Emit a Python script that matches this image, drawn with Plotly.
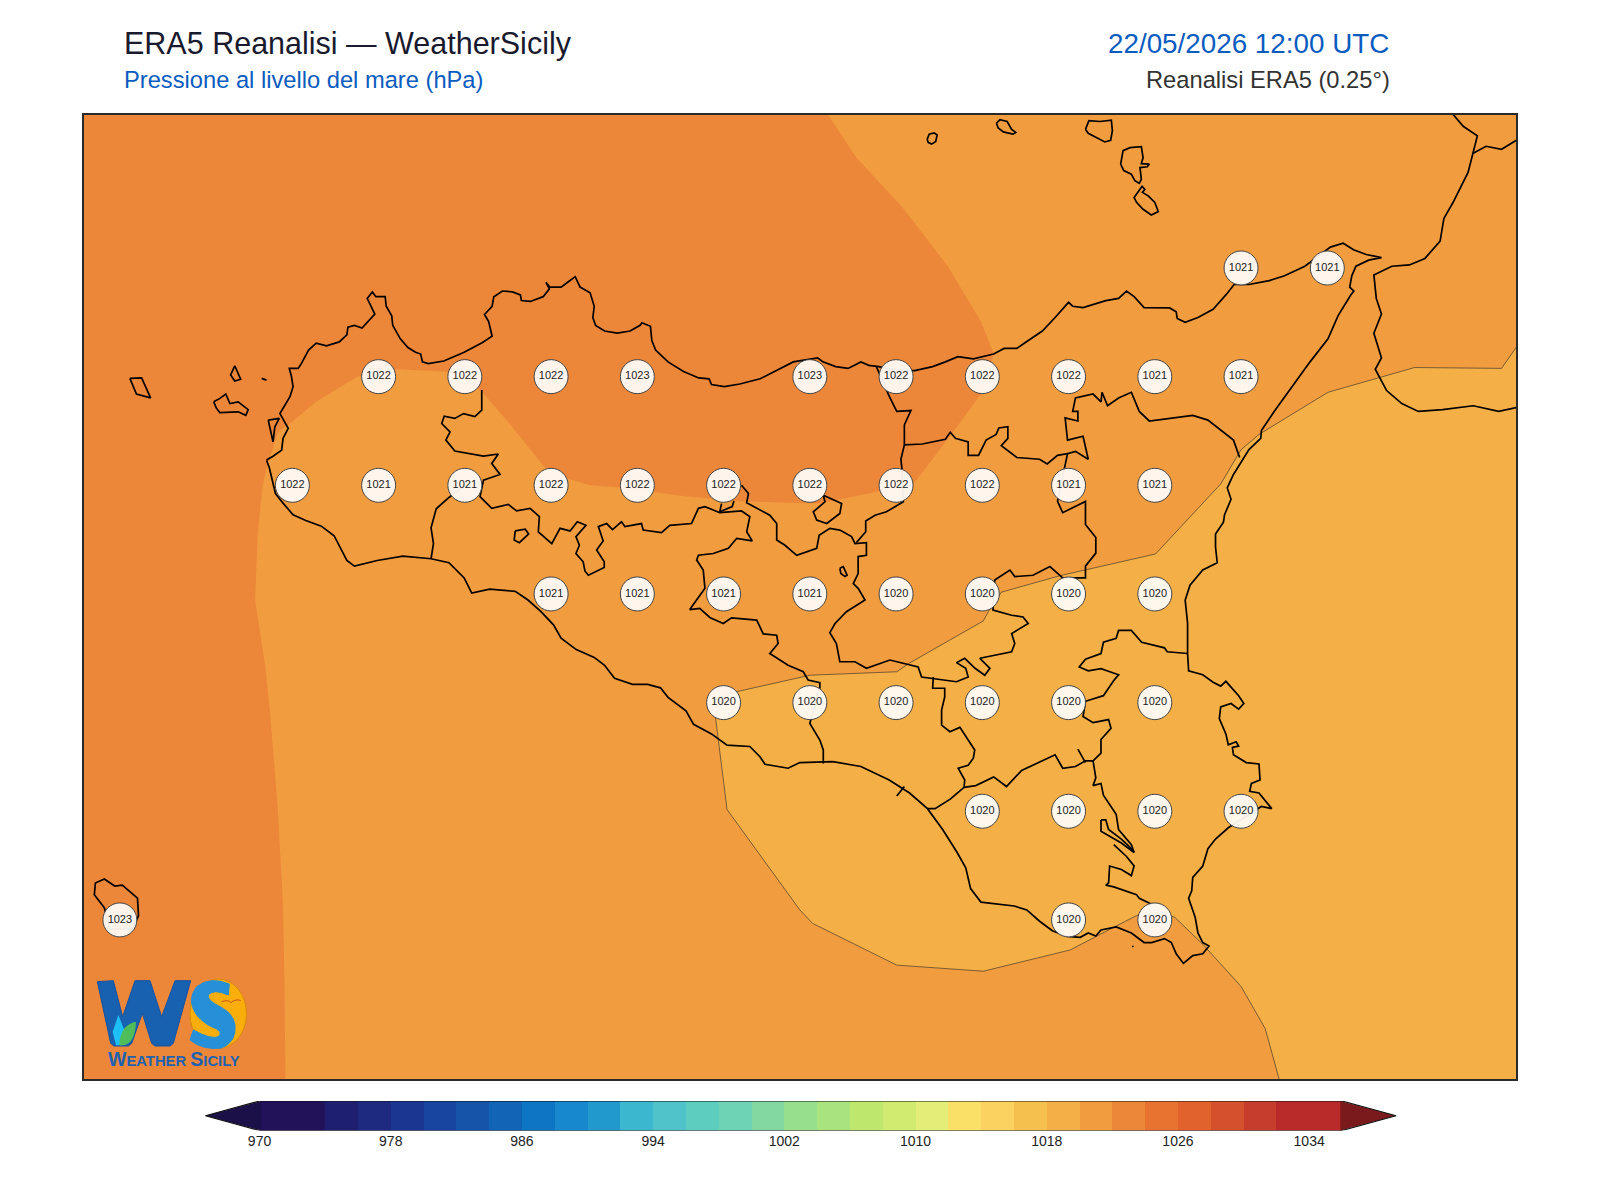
import plotly.graph_objects as go

# ---- data (lon, lat in degrees, pressure in hPa) ----
LON_RANGE = [11.896, 16.047]
LAT_RANGE = [36.380, 38.598]

STATION_LON = [15.25, 15.5,
               12.75, 13.0, 13.25, 13.5, 14.0, 14.25, 14.5, 14.75, 15.0, 15.25,
               12.5, 12.75, 13.0, 13.25, 13.5, 13.75, 14.0, 14.25, 14.5, 14.75, 15.0,
               13.25, 13.5, 13.75, 14.0, 14.25, 14.5, 14.75, 15.0,
               13.75, 14.0, 14.25, 14.5, 14.75, 15.0,
               14.5, 14.75, 15.0, 15.25,
               12.0, 14.75, 15.0]
STATION_LAT = [38.246] * 2 + [37.996] * 10 + [37.746] * 11 + [37.496] * 8 + [37.246] * 6 + [36.996] * 4 + [36.746] * 3
STATION_HPA = [1021, 1021,
               1022, 1022, 1022, 1023, 1023, 1022, 1022, 1022, 1021, 1021,
               1022, 1021, 1021, 1022, 1022, 1022, 1022, 1022, 1022, 1021, 1021,
               1021, 1021, 1021, 1021, 1020, 1020, 1020, 1020,
               1020, 1020, 1020, 1020, 1020, 1020,
               1020, 1020, 1020, 1020,
               1023, 1020, 1020]

# band 1022-1024 hPa
BAND_1022 = [(14.052, 38.6), (14.134, 38.501), (14.267, 38.387), (14.400, 38.250), (14.496, 38.123),
             (14.533, 38.048), (14.496, 37.956), (14.415, 37.868), (14.304, 37.753), (14.193, 37.731),
             (14.089, 37.714), (14.024, 37.704), (13.933, 37.706), (13.788, 37.710), (13.643, 37.720),
             (13.556, 37.729), (13.450, 37.741), (13.363, 37.746), (13.295, 37.762), (13.232, 37.787),
             (13.179, 37.838), (13.121, 37.896), (13.049, 37.961), (12.990, 38.004), (12.953, 38.007),
             (12.806, 38.013), (12.687, 37.995), (12.569, 37.938), (12.488, 37.885), (12.458, 37.868),
             (12.427, 37.790), (12.414, 37.746), (12.399, 37.630), (12.392, 37.482), (12.421, 37.332),
             (12.436, 37.218), (12.458, 36.998), (12.473, 36.778), (12.477, 36.602), (12.480, 36.378),
             (11.893, 36.378), (11.893, 38.6)]

# isobar 1020 hPa, the edge of the 1018-1020 band
ISO_1020 = [(16.05, 38.066), (16.005, 38.015), (15.753, 38.017), (15.502, 37.960), (15.302, 37.863),
            (15.250, 37.828), (15.191, 37.749), (15.002, 37.588), (14.725, 37.538), (14.555, 37.500),
            (14.518, 37.456), (14.503, 37.434), (14.289, 37.337), (14.252, 37.317), (14.000, 37.309),
            (13.793, 37.272), (13.750, 37.262), (13.727, 37.209), (13.760, 37.000), (13.971, 36.769),
            (14.008, 36.738), (14.252, 36.642), (14.503, 36.628), (14.755, 36.677), (14.888, 36.732),
            (14.947, 36.756), (15.000, 36.770), (15.058, 36.752), (15.139, 36.690), (15.250, 36.593),
            (15.320, 36.496), (15.361, 36.378)]
BAND_1018_CORNERS = [(16.05, 36.378)]

SICILY_COAST = [
    (12.425, 37.804), (12.444, 37.813), (12.469, 37.827), (12.473, 37.854), (12.488, 37.877), (12.470, 37.904),
    (12.464, 37.911), (12.493, 37.950), (12.502, 37.973), (12.497, 37.998), (12.491, 38.015), (12.517, 38.015),
    (12.526, 38.026), (12.547, 38.057), (12.569, 38.073), (12.599, 38.067), (12.636, 38.076), (12.658, 38.092),
    (12.661, 38.110), (12.680, 38.114), (12.702, 38.108), (12.739, 38.140), (12.717, 38.176), (12.732, 38.191),
    (12.742, 38.180), (12.769, 38.180), (12.772, 38.158), (12.788, 38.136), (12.791, 38.114), (12.813, 38.083),
    (12.835, 38.063), (12.857, 38.052), (12.872, 38.048), (12.877, 38.030), (12.894, 38.026), (12.939, 38.032),
    (12.998, 38.052), (13.050, 38.074), (13.079, 38.089), (13.069, 38.123), (13.057, 38.139), (13.079, 38.158),
    (13.084, 38.180), (13.109, 38.193), (13.138, 38.191), (13.161, 38.184), (13.164, 38.171), (13.190, 38.169),
    (13.227, 38.180), (13.245, 38.198), (13.235, 38.213), (13.246, 38.202), (13.279, 38.202), (13.301, 38.215),
    (13.320, 38.226), (13.334, 38.202), (13.363, 38.189), (13.375, 38.158), (13.371, 38.132), (13.379, 38.114),
    (13.405, 38.101), (13.442, 38.096), (13.479, 38.101), (13.508, 38.114), (13.513, 38.120), (13.538, 38.112),
    (13.542, 38.079), (13.553, 38.057), (13.589, 38.030), (13.634, 38.008), (13.678, 37.993), (13.708, 37.991),
    (13.715, 37.978), (13.752, 37.973), (13.797, 37.979), (13.856, 37.991), (13.900, 38.008), (13.952, 38.030),
    (14.023, 38.039), (14.038, 38.030), (14.075, 38.019), (14.111, 38.015), (14.148, 38.030), (14.171, 38.022),
    (14.200, 38.019), (14.251, 38.010), (14.304, 38.010), (14.356, 38.019), (14.393, 38.030), (14.429, 38.042),
    (14.474, 38.037), (14.533, 38.048), (14.563, 38.061), (14.600, 38.061), (14.629, 38.077), (14.674, 38.101),
    (14.711, 38.132), (14.750, 38.167), (14.762, 38.158), (14.792, 38.155), (14.858, 38.171), (14.895, 38.176),
    (14.918, 38.193), (14.940, 38.180), (14.969, 38.155), (15.043, 38.154), (15.062, 38.145), (15.065, 38.130),
    (15.088, 38.121), (15.125, 38.132), (15.169, 38.151), (15.206, 38.184), (15.231, 38.209), (15.273, 38.208),
    (15.332, 38.217), (15.376, 38.228), (15.435, 38.250), (15.465, 38.268), (15.509, 38.294), (15.546, 38.303),
    (15.576, 38.288), (15.613, 38.277), (15.657, 38.270), (15.620, 38.264), (15.583, 38.250), (15.571, 38.228),
    (15.565, 38.202), (15.577, 38.193), (15.568, 38.184), (15.531, 38.136), (15.502, 38.083), (15.450, 38.030),
    (15.398, 37.973), (15.346, 37.916), (15.309, 37.872), (15.307, 37.854), (15.273, 37.828), (15.258, 37.810),
    (15.228, 37.771), (15.210, 37.740), (15.221, 37.714), (15.202, 37.678), (15.199, 37.661), (15.176, 37.634),
    (15.176, 37.604), (15.181, 37.568), (15.139, 37.551), (15.102, 37.516), (15.088, 37.482), (15.095, 37.429),
    (15.095, 37.359), (15.098, 37.319), (15.139, 37.310), (15.169, 37.293), (15.191, 37.284), (15.206, 37.295),
    (15.243, 37.262), (15.258, 37.244), (15.243, 37.231), (15.221, 37.244), (15.191, 37.236), (15.187, 37.209),
    (15.206, 37.174), (15.213, 37.149), (15.236, 37.156), (15.243, 37.146), (15.225, 37.143), (15.228, 37.126),
    (15.265, 37.108), (15.302, 37.105), (15.305, 37.068), (15.280, 37.060), (15.275, 37.042), (15.302, 37.038),
    (15.320, 37.020), (15.339, 37.002), (15.309, 37.007), (15.273, 36.989), (15.213, 36.958), (15.176, 36.932),
    (15.154, 36.910), (15.139, 36.870), (15.110, 36.844), (15.107, 36.813), (15.098, 36.796), (15.117, 36.752),
    (15.125, 36.716), (15.139, 36.694), (15.157, 36.686), (15.139, 36.668), (15.110, 36.664), (15.083, 36.646),
    (15.062, 36.668), (15.048, 36.694), (15.028, 36.703), (14.991, 36.694), (14.969, 36.694), (14.932, 36.716),
    (14.888, 36.730), (14.844, 36.723), (14.829, 36.709), (14.807, 36.716), (14.784, 36.706), (14.747, 36.708),
    (14.703, 36.721), (14.666, 36.743), (14.629, 36.769), (14.592, 36.778), (14.555, 36.782), (14.496, 36.787),
    (14.466, 36.818), (14.452, 36.866), (14.427, 36.901), (14.385, 36.954), (14.341, 37.002), (14.289, 37.038),
    (14.230, 37.068), (14.148, 37.099), (14.067, 37.110), (13.971, 37.108), (13.937, 37.095), (13.907, 37.099),
    (13.870, 37.104), (13.856, 37.121), (13.826, 37.145), (13.760, 37.148), (13.715, 37.174), (13.663, 37.196),
    (13.641, 37.227), (13.589, 37.258), (13.567, 37.280), (13.530, 37.288), (13.486, 37.288), (13.434, 37.302),
    (13.405, 37.332), (13.375, 37.350), (13.323, 37.368), (13.279, 37.394), (13.257, 37.425), (13.220, 37.456),
    (13.183, 37.482), (13.146, 37.502), (13.072, 37.507), (13.020, 37.498), (12.998, 37.533), (12.954, 37.568),
    (12.902, 37.577), (12.820, 37.583), (12.746, 37.573), (12.680, 37.560), (12.658, 37.573), (12.621, 37.630),
    (12.584, 37.652), (12.539, 37.665), (12.502, 37.678), (12.473, 37.705), (12.451, 37.727), (12.433, 37.787),
    (12.425, 37.804)]

CALABRIA_COAST = [(15.864, 38.6), (15.894, 38.572), (15.935, 38.550), (15.923, 38.510), (15.908, 38.466),
                  (15.864, 38.396), (15.838, 38.360), (15.827, 38.308), (15.783, 38.268), (15.738, 38.253),
                  (15.687, 38.250), (15.635, 38.230), (15.642, 38.176), (15.657, 38.140), (15.635, 38.096),
                  (15.657, 38.039), (15.639, 38.013), (15.672, 37.964), (15.716, 37.934), (15.764, 37.916),
                  (15.834, 37.920), (15.923, 37.929), (15.997, 37.916), (16.05, 37.925)]

ISLANDS = [
    [(12.430, 37.896), (12.444, 37.846), (12.449, 37.880), (12.462, 37.900), (12.430, 37.896)],
    [(11.955, 36.774), (11.926, 36.804), (11.929, 36.831), (11.955, 36.840), (11.985, 36.824), (12.007, 36.826),
     (12.051, 36.796), (12.054, 36.756), (12.037, 36.725), (11.970, 36.725), (11.955, 36.774)],
    [(12.029, 37.992), (12.063, 37.993), (12.089, 37.947), (12.048, 37.956), (12.029, 37.992)],
    [(12.272, 37.938), (12.290, 37.946), (12.307, 37.956), (12.319, 37.934), (12.343, 37.938), (12.372, 37.920),
     (12.365, 37.907), (12.343, 37.915), (12.290, 37.913), (12.280, 37.923), (12.272, 37.938)],
    [(12.333, 38.021), (12.348, 37.997), (12.350, 37.990), (12.333, 37.986), (12.321, 38.000), (12.333, 38.021)],
    [(12.411, 37.992), (12.425, 37.988)],
    [(14.340, 38.542), (14.346, 38.554), (14.360, 38.557), (14.369, 38.552), (14.365, 38.537), (14.353, 38.531),
     (14.343, 38.535), (14.340, 38.542)],
    [(14.541, 38.579), (14.551, 38.587), (14.572, 38.583), (14.585, 38.565), (14.597, 38.558), (14.589, 38.554),
     (14.561, 38.559), (14.546, 38.568), (14.541, 38.579)],
    [(14.799, 38.565), (14.809, 38.585), (14.841, 38.583), (14.874, 38.586), (14.877, 38.562), (14.872, 38.540),
     (14.855, 38.536), (14.831, 38.546), (14.807, 38.556), (14.799, 38.565)],
    [(14.901, 38.485), (14.908, 38.516), (14.928, 38.523), (14.961, 38.525), (14.966, 38.500), (14.961, 38.486),
     (14.984, 38.485), (14.978, 38.479), (14.957, 38.477), (14.961, 38.450), (14.955, 38.441), (14.942, 38.447),
     (14.932, 38.462), (14.910, 38.470), (14.901, 38.485)],
    [(14.957, 38.427), (14.963, 38.434), (14.971, 38.427), (14.964, 38.420), (14.981, 38.412), (15.000, 38.397),
     (15.010, 38.376), (14.990, 38.368), (14.966, 38.381), (14.947, 38.397), (14.940, 38.408), (14.952, 38.420),
     (14.957, 38.427)],
    [(14.935, 36.686), (14.938, 36.684)],
]

PROVINCE_LINES = [
    [(13.049, 37.965), (13.049, 37.919), (13.029, 37.904), (12.996, 37.911), (12.971, 37.900), (12.940, 37.905),
     (12.933, 37.888), (12.957, 37.869), (12.945, 37.850), (12.971, 37.825), (13.054, 37.813), (13.097, 37.818),
     (13.078, 37.796), (13.102, 37.771), (13.054, 37.758), (13.044, 37.720), (13.078, 37.693), (13.126, 37.702),
     (13.150, 37.687), (13.189, 37.693), (13.216, 37.674), (13.213, 37.639), (13.252, 37.612), (13.276, 37.647),
     (13.305, 37.641), (13.326, 37.662), (13.351, 37.654), (13.322, 37.628), (13.332, 37.608), (13.322, 37.589),
     (13.343, 37.570), (13.348, 37.549), (13.358, 37.539), (13.404, 37.557), (13.404, 37.570), (13.382, 37.597),
     (13.401, 37.618), (13.387, 37.651), (13.411, 37.658), (13.428, 37.644), (13.454, 37.662), (13.464, 37.651),
     (13.512, 37.658), (13.517, 37.643), (13.570, 37.637), (13.594, 37.654), (13.657, 37.658), (13.677, 37.693),
     (13.696, 37.697), (13.739, 37.683), (13.802, 37.687), (13.826, 37.674), (13.817, 37.639), (13.833, 37.618),
     (13.788, 37.624), (13.764, 37.601), (13.720, 37.589), (13.677, 37.585), (13.672, 37.574), (13.691, 37.551),
     (13.696, 37.509), (13.677, 37.489), (13.652, 37.460), (13.681, 37.463), (13.710, 37.442), (13.749, 37.428),
     (13.773, 37.441), (13.846, 37.436), (13.865, 37.404), (13.904, 37.401), (13.908, 37.382), (13.884, 37.359),
     (13.937, 37.332), (13.981, 37.317), (13.995, 37.298), (14.029, 37.292), (14.029, 37.281), (14.000, 37.198),
     (14.029, 37.160), (14.039, 37.137), (14.039, 37.106)],
    [(13.0, 37.745), (12.954, 37.718), (12.917, 37.692), (12.902, 37.648), (12.909, 37.612), (12.902, 37.577)],
    [(13.802, 37.746), (13.822, 37.727), (13.817, 37.706), (13.884, 37.677), (13.904, 37.658), (13.904, 37.620),
     (13.928, 37.608), (13.962, 37.585), (14.020, 37.601), (14.027, 37.631), (14.058, 37.647), (14.087, 37.643),
     (14.121, 37.628), (14.131, 37.612), (14.164, 37.614), (14.164, 37.585), (14.140, 37.582), (14.140, 37.543),
     (14.126, 37.520), (14.140, 37.509), (14.160, 37.482), (14.106, 37.455), (14.073, 37.428), (14.058, 37.407),
     (14.077, 37.382), (14.087, 37.340), (14.131, 37.340), (14.164, 37.325), (14.232, 37.344), (14.271, 37.336),
     (14.314, 37.328), (14.324, 37.305), (14.387, 37.298), (14.425, 37.294), (14.459, 37.305), (14.452, 37.325),
     (14.425, 37.338), (14.449, 37.348), (14.479, 37.325), (14.507, 37.309), (14.522, 37.325), (14.493, 37.348),
     (14.585, 37.363), (14.594, 37.382), (14.585, 37.405), (14.633, 37.428), (14.618, 37.443), (14.585, 37.447),
     (14.531, 37.459), (14.536, 37.528), (14.580, 37.551), (14.594, 37.536), (14.647, 37.539), (14.696, 37.559),
     (14.733, 37.533), (14.799, 37.533), (14.799, 37.560), (14.829, 37.590), (14.829, 37.626), (14.799, 37.656),
     (14.799, 37.709), (14.733, 37.683), (14.718, 37.709), (14.747, 37.819), (14.770, 37.824), (14.807, 37.806),
     (14.792, 37.859), (14.747, 37.850), (14.740, 37.901), (14.777, 37.894), (14.777, 37.916), (14.762, 37.916),
     (14.770, 37.947), (14.821, 37.956), (14.844, 37.938), (14.847, 37.960), (14.863, 37.929), (14.895, 37.947),
     (14.932, 37.960), (14.955, 37.916), (14.984, 37.894), (15.036, 37.900), (15.110, 37.907), (15.154, 37.896),
     (15.199, 37.868), (15.228, 37.850), (15.246, 37.810)],
    [(14.747, 37.819), (14.718, 37.815), (14.688, 37.795), (14.666, 37.806), (14.600, 37.810), (14.555, 37.837),
     (14.574, 37.854), (14.574, 37.881), (14.548, 37.878), (14.540, 37.863), (14.511, 37.850), (14.489, 37.815),
     (14.459, 37.815), (14.459, 37.846), (14.422, 37.854), (14.407, 37.868), (14.393, 37.852), (14.326, 37.841),
     (14.274, 37.839)],
    [(14.193, 38.019), (14.230, 37.951), (14.252, 37.916), (14.293, 37.918), (14.274, 37.885), (14.274, 37.839),
     (14.264, 37.806), (14.267, 37.784), (14.271, 37.708), (14.222, 37.685), (14.189, 37.677), (14.162, 37.664),
     (14.162, 37.639), (14.135, 37.614)],
    [(14.358, 37.305), (14.356, 37.279), (14.391, 37.279), (14.391, 37.259), (14.382, 37.229), (14.382, 37.194),
     (14.406, 37.179), (14.435, 37.189), (14.478, 37.137), (14.474, 37.118), (14.459, 37.102), (14.430, 37.095),
     (14.449, 37.068), (14.447, 37.051), (14.407, 37.024), (14.363, 37.002), (14.341, 37.002)],
    [(14.447, 37.051), (14.481, 37.055), (14.533, 37.075), (14.570, 37.053), (14.614, 37.090), (14.651, 37.104),
     (14.711, 37.126), (14.733, 37.095), (14.770, 37.099), (14.799, 37.112), (14.821, 37.112), (14.844, 37.130),
     (14.844, 37.161), (14.873, 37.187), (14.866, 37.207), (14.821, 37.200), (14.792, 37.214), (14.799, 37.249),
     (14.851, 37.262), (14.881, 37.297), (14.895, 37.310), (14.844, 37.324), (14.807, 37.319), (14.781, 37.328),
     (14.799, 37.346), (14.844, 37.359), (14.851, 37.385), (14.888, 37.394), (14.895, 37.412), (14.932, 37.412),
     (14.962, 37.385), (15.028, 37.372), (15.036, 37.363), (15.095, 37.359)],
    [(14.777, 37.139), (14.799, 37.108)],
    [(14.821, 37.112), (14.829, 37.073), (14.821, 37.055), (14.844, 37.060), (14.851, 37.033), (14.888, 36.989),
     (14.895, 36.954), (14.932, 36.919), (14.940, 36.901)],
    [(14.844, 36.976), (14.858, 36.976), (14.866, 36.954), (14.903, 36.932), (14.932, 36.910), (14.940, 36.901),
     (14.903, 36.923), (14.844, 36.950), (14.844, 36.976)],
    [(14.881, 36.919), (14.918, 36.892), (14.940, 36.870), (14.932, 36.848), (14.903, 36.862), (14.869, 36.870),
     (14.866, 36.831), (14.858, 36.826), (14.881, 36.822), (14.947, 36.804), (14.955, 36.796), (14.991, 36.782)],
    [(14.274, 37.053), (14.252, 37.031)],
    [(13.146, 37.641), (13.175, 37.645), (13.185, 37.634), (13.158, 37.614), (13.143, 37.620), (13.146, 37.641)],
    [(14.087, 37.555), (14.097, 37.559), (14.108, 37.539), (14.102, 37.536), (14.090, 37.543), (14.087, 37.555)],
    [(13.744, 37.704), (13.739, 37.685), (13.775, 37.697), (13.780, 37.710)],
    [(14.039, 37.723), (14.092, 37.704), (14.087, 37.681), (14.049, 37.658), (14.020, 37.666), (14.010, 37.685),
     (14.044, 37.708), (14.039, 37.723)],
    [(15.923, 38.510), (15.960, 38.526), (16.005, 38.519), (16.05, 38.541)],
]

# colour scale: lower edge of each 2 hPa bin, and its colour
BIN_START = list(range(970, 1036, 2))
BIN_COLOURS = ['#22125A', '#22125A', '#1F1F70', '#1D2A7F', '#1A3691', '#1745A0', '#1554A8', '#1264B6', '#0C75C4',
               '#1787CE', '#2299CD', '#3BB7D0', '#4FC3C9', '#5CCDBE', '#6DD3B4', '#83D8A2', '#97DE8D', '#A9E37E',
               '#BEE76E', '#D1EA70', '#E2EE78', '#FAE066', '#FBD260', '#F6C04F', '#F4B047', '#F19C3F', '#EC873A',
               '#E87330', '#E2622D', '#D4512C', '#C63D2B', '#B92A2B', '#B92A2B']
CBAR_TICKS = [970, 978, 986, 994, 1002, 1010, 1018, 1026, 1034]
BELOW_COLOUR = '#1C1048'
ABOVE_COLOUR = '#7A1A1C'

PAGE_W, PAGE_H = 1600, 1200


def px(x):
    return x / PAGE_W


def py(y):
    return 1 - y / PAGE_H


def unzip(points):
    return [p[0] for p in points], [p[1] for p in points]


def logo_path(points, close=True):
    # logo outline, points are (x, y) on a 3x crop of the logo corner; a 4-tuple is a curve
    parts = []
    for i, p in enumerate(points):
        if len(p) == 4:
            parts.append(f'Q {px(80 + p[0] / 3)} {py(960 + p[1] / 3)} {px(80 + p[2] / 3)} {py(960 + p[3] / 3)}')
        else:
            parts.append(f'{"M" if i == 0 else "L"} {px(80 + p[0] / 3)} {py(960 + p[1] / 3)}')
    return ' '.join(parts) + (' Z' if close else '')


fig = go.Figure()

# pressure bands
x, y = unzip([(LON_RANGE[0], LAT_RANGE[0]), (LON_RANGE[1], LAT_RANGE[0]),
              (LON_RANGE[1], LAT_RANGE[1]), (LON_RANGE[0], LAT_RANGE[1])])
fig.add_trace(go.Scatter(x=x, y=y, mode='lines', fill='toself', fillcolor='#F19C3F', line=dict(width=0)))
x, y = unzip(BAND_1022)
fig.add_trace(go.Scatter(x=x, y=y, mode='lines', fill='toself', fillcolor='#EC873A', line=dict(width=0)))
x, y = unzip(ISO_1020 + BAND_1018_CORNERS)
fig.add_trace(go.Scatter(x=x, y=y, mode='lines', fill='toself', fillcolor='#F4B047', line=dict(width=0)))
x, y = unzip(ISO_1020)
fig.add_trace(go.Scatter(x=x, y=y, mode='lines', line=dict(color='rgba(40,40,40,0.85)', width=0.7)))

# coast and provinces
for line in [SICILY_COAST, CALABRIA_COAST] + ISLANDS + PROVINCE_LINES:
    x, y = unzip(line)
    fig.add_trace(go.Scatter(x=x, y=y, mode='lines', line=dict(color='black', width=1.7)))

# pressure labels
fig.add_trace(go.Scatter(
    x=STATION_LON, y=STATION_LAT, mode='markers+text',
    text=[str(v) for v in STATION_HPA], textposition='middle center',
    textfont=dict(family='Liberation Sans', size=11, color='#222222'),
    marker=dict(size=34, color='rgba(255,250,245,0.95)', line=dict(color='#444444', width=1)),
))

# colour bar
fig.add_trace(go.Bar(
    x=[b + 1 for b in BIN_START], y=[1] * len(BIN_START), width=[2] * len(BIN_START),
    marker=dict(color=BIN_COLOURS, line=dict(width=0)), xaxis='x2', yaxis='y2',
))
fig.add_trace(go.Scatter(x=[970.1, 966.7, 970.1], y=[0, 0.5, 1], mode='lines', fill='toself', fillcolor=BELOW_COLOUR,
                         line=dict(width=0), xaxis='x2', yaxis='y2'))
fig.add_trace(go.Scatter(x=[1035.9, 1039.3, 1035.9], y=[0, 0.5, 1], mode='lines', fill='toself', fillcolor=ABOVE_COLOUR,
                         line=dict(width=0), xaxis='x2', yaxis='y2'))
fig.add_trace(go.Scatter(x=[970, 966.7, 970, 1036, 1039.3, 1036, 970], y=[0, 0.5, 1, 1, 0.5, 0, 0], mode='lines',
                         line=dict(color='#111111', width=1.2), xaxis='x2', yaxis='y2', cliponaxis=False))

FONT = 'Liberation Sans'
headers = [
    ('ERA5 Reanalisi — WeatherSicily', 122, 43, 'left', 30.5, '#1A1A2E'),
    ('Pressione al livello del mare (hPa)', 122, 80, 'left', 23.7, '#0B5CBF'),
    ('22/05/2026 12:00 UTC', 1391, 44, 'right', 27.8, '#0B5CBF'),
    ('Reanalisi ERA5 (0.25°)', 1392, 80, 'right', 23.7, '#333333'),
]
annotations = [dict(text=t, x=px(ax), y=py(ay), xref='paper', yref='paper', xanchor=anchor, yanchor='middle',
                    showarrow=False, font=dict(family=FONT, size=size, color=col))
               for t, ax, ay, anchor, size, col in headers]

# logo, rough redraw; only its wordmark is text
SMALL_CAPS = ('<b><span style="font-size:19.5px">W</span>EATHER '
              '<span style="font-size:19.5px">S</span>ICILY</b>')
annotations.append(dict(text=SMALL_CAPS, x=px(174), y=py(1059), xref='paper', yref='paper', xanchor='center',
                        yanchor='middle', showarrow=False, font=dict(family=FONT, size=14.8, color='#1C62B0')))

LOGO_W = [(52, 65), (100, 62), (128, 170), (165, 62), (210, 62), (245, 170), (285, 62), (332, 62), (280, 250),
          (270, 258), (225, 258), (215, 250), (187, 160), (155, 250), (145, 258), (102, 258), (92, 250)]
LOGO_DROP = [(115, 165), (98, 215), (108, 256), (128, 256), (135, 215)]
LOGO_LEAF = [(168, 185), (120, 195, 118, 255), (165, 262, 168, 185)]
LOGO_S = [(448, 72), (390, 48, 350, 80), (318, 120, 350, 165), (370, 190, 405, 205), (430, 215, 415, 230),
          (395, 240, 340, 210), (330, 240), (370, 272, 425, 264), (470, 245, 465, 195), (460, 160, 420, 140),
          (380, 120, 385, 105), (400, 85, 445, 105)]
LOGO_BIRD = [(425, 125), (445, 118, 452, 128), (470, 115, 482, 122)]

shapes = [
    dict(type='circle', xref='paper', yref='paper', x0=px(190), x1=px(246.5), y0=py(1048.5), y1=py(979),
         fillcolor='#F9AE0B', line=dict(color='#D98A0A', width=1), layer='above'),
    dict(type='path', xref='paper', yref='paper', path=logo_path(LOGO_W), fillcolor='#1860B0',
         line=dict(color='#1453A3', width=1), layer='above'),
    dict(type='path', xref='paper', yref='paper', path=logo_path(LOGO_DROP), fillcolor='#1CC0F5',
         line=dict(width=0), layer='above'),
    dict(type='path', xref='paper', yref='paper', path=logo_path(LOGO_LEAF), fillcolor='#4FBE5A',
         line=dict(width=0), layer='above'),
    dict(type='path', xref='paper', yref='paper', path=logo_path(LOGO_S), fillcolor='#2590D8',
         line=dict(color='#2590D8', width=1), layer='above'),
    dict(type='path', xref='paper', yref='paper', path=logo_path(LOGO_BIRD, close=False),
         line=dict(color='#C8501E', width=1), layer='above'),
]

fig.update_layout(
    width=PAGE_W, height=PAGE_H, margin=dict(l=0, r=0, t=0, b=0, pad=0), autosize=False,
    paper_bgcolor='white', plot_bgcolor='white', showlegend=False, hovermode=False,
    bargap=0, annotations=annotations, shapes=shapes,
    xaxis=dict(domain=[px(84), px(1516)], range=LON_RANGE, showgrid=False, zeroline=False, showticklabels=False,
               ticks='', showline=True, mirror=True, linecolor='#2A2A2A', linewidth=1.5),
    yaxis=dict(domain=[py(1079), py(115)], range=LAT_RANGE, showgrid=False, zeroline=False, showticklabels=False,
               ticks='', showline=True, mirror=True, linecolor='#2A2A2A', linewidth=1.5),
    xaxis2=dict(domain=[px(200), px(1400)], range=[966.37, 1039.54], anchor='y2', showgrid=False, zeroline=False,
                tickmode='array', tickvals=CBAR_TICKS, ticktext=[str(t) for t in CBAR_TICKS], ticks='',
                tickfont=dict(family=FONT, size=14, color='#222222'), showline=False),
    yaxis2=dict(domain=[py(1130.5), py(1101)], range=[0, 1], anchor='x2', showgrid=False, zeroline=False,
                showticklabels=False, ticks='', showline=False),
)

fig.write_html("out.html", post_script="document.body.style.margin='0';", config={'displayModeBar': False})
